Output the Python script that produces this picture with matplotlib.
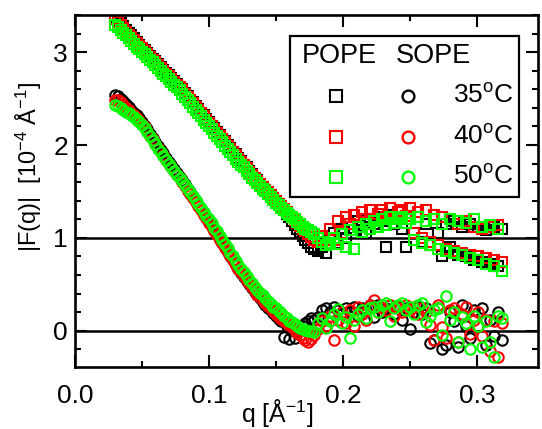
import matplotlib
matplotlib.use("Agg")
import matplotlib.pyplot as plt
from matplotlib.patches import Rectangle
from matplotlib.ticker import MultipleLocator, FormatStrFormatter

plt.rcParams['font.family'] = ['Liberation Sans', 'DejaVu Sans']
plt.rcParams['mathtext.fontset'] = 'custom'
plt.rcParams['mathtext.rm'] = 'Liberation Sans'
plt.rcParams['mathtext.it'] = 'Liberation Sans:italic'
plt.rcParams['mathtext.bf'] = 'Liberation Sans:bold'

# ---------------- data ----------------
# dense, smooth low-q part
q_smooth = [0.030, 0.032, 0.034, 0.036, 0.038, 0.040, 0.042, 0.044, 0.046, 0.048,
            0.050, 0.052, 0.054, 0.056, 0.058, 0.060, 0.062, 0.064, 0.066, 0.068,
            0.070, 0.072, 0.074, 0.076, 0.078, 0.080, 0.082, 0.084, 0.086, 0.088,
            0.090, 0.092, 0.094, 0.096, 0.098, 0.100, 0.102, 0.104, 0.106, 0.108,
            0.110, 0.112, 0.114, 0.116, 0.118, 0.120, 0.122, 0.124, 0.126, 0.128,
            0.130, 0.132, 0.134, 0.136, 0.138, 0.140, 0.142, 0.144, 0.146, 0.148,
            0.150, 0.152, 0.154, 0.156, 0.158, 0.160, 0.162, 0.164, 0.166, 0.168,
            0.170, 0.172, 0.174, 0.176, 0.178]
# noisy high-q part
q_tail = [0.181, 0.184, 0.187, 0.190, 0.193, 0.196, 0.199,
          0.202, 0.205, 0.208, 0.211, 0.214, 0.217, 0.220,
          0.223, 0.226, 0.229, 0.232, 0.235, 0.238, 0.241,
          0.244, 0.247, 0.250, 0.253, 0.256, 0.259, 0.262,
          0.265, 0.268, 0.271, 0.274, 0.277, 0.280, 0.283,
          0.286, 0.289, 0.292, 0.295, 0.298, 0.301, 0.304,
          0.307, 0.310, 0.313, 0.316, 0.319]

# POPE (squares), shifted by +1
pope_35_smooth = [3.38, 3.35, 3.31, 3.28, 3.24, 3.21, 3.18, 3.15, 3.11, 3.08,
                  3.05, 3.02, 2.99, 2.96, 2.93, 2.90, 2.87, 2.84, 2.81, 2.78,
                  2.75, 2.72, 2.69, 2.66, 2.63, 2.60, 2.56, 2.53, 2.49, 2.46,
                  2.42, 2.39, 2.35, 2.32, 2.28, 2.25, 2.21, 2.18, 2.14, 2.11,
                  2.07, 2.04, 2.00, 1.97, 1.93, 1.90, 1.86, 1.83, 1.79, 1.76,
                  1.72, 1.69, 1.65, 1.62, 1.58, 1.55, 1.52, 1.49, 1.46, 1.43,
                  1.40, 1.36, 1.33, 1.30, 1.26, 1.22, 1.18, 1.14, 1.10, 1.06,
                  1.02, 0.98, 0.94, 0.90, 0.88]
pope_35_tail = [0.86, 0.90, 0.84, 0.98, 1.05, 0.95, 1.10,
                1.00, 1.15, 1.08, 1.18, 1.12, 1.05, 1.20,
                1.15, 1.22, 1.18, 0.90, 1.25, 1.15, 1.22,
                1.10, 0.90, 1.20, 1.05, 1.22, 0.96, 1.15,
                0.92, 1.20, 1.05, 0.80, 1.15, 0.90, 1.18,
                0.82, 1.12, 0.80, 1.15, 0.76, 1.12, 0.74,
                1.08, 0.72, 1.12, 0.70, 1.10]
pope_40_smooth = [3.36, 3.33, 3.29, 3.26, 3.22, 3.19, 3.16, 3.13, 3.10, 3.07,
                  3.04, 3.01, 2.98, 2.95, 2.92, 2.89, 2.86, 2.83, 2.80, 2.77,
                  2.74, 2.71, 2.68, 2.65, 2.62, 2.59, 2.55, 2.52, 2.48, 2.45,
                  2.41, 2.38, 2.34, 2.31, 2.27, 2.24, 2.20, 2.17, 2.13, 2.10,
                  2.06, 2.03, 1.99, 1.96, 1.92, 1.89, 1.85, 1.82, 1.78, 1.75,
                  1.71, 1.68, 1.65, 1.61, 1.58, 1.55, 1.52, 1.49, 1.46, 1.43,
                  1.40, 1.37, 1.34, 1.31, 1.28, 1.25, 1.22, 1.19, 1.16, 1.13,
                  1.10, 1.07, 1.04, 1.01, 0.98]
pope_40_tail = [0.96, 1.02, 0.92, 1.10, 0.98, 1.18, 1.05,
                1.22, 1.15, 1.25, 1.12, 1.28, 1.20, 1.30,
                1.18, 1.26, 1.30, 1.22, 1.32, 1.20, 1.28,
                1.30, 1.24, 1.32, 1.05, 1.28, 1.00, 1.30,
                0.96, 1.25, 0.92, 1.22, 0.88, 1.20, 0.86,
                1.15, 0.84, 1.18, 0.82, 1.12, 0.80, 1.10,
                0.78, 1.12, 0.76, 1.14, 0.74]
pope_50_smooth = [3.29, 3.27, 3.24, 3.21, 3.18, 3.15, 3.12, 3.09, 3.06, 3.03,
                  3.00, 2.98, 2.95, 2.92, 2.89, 2.86, 2.83, 2.80, 2.77, 2.74,
                  2.71, 2.68, 2.65, 2.62, 2.59, 2.55, 2.52, 2.48, 2.45, 2.41,
                  2.38, 2.34, 2.31, 2.27, 2.24, 2.20, 2.17, 2.13, 2.10, 2.06,
                  2.03, 1.99, 1.96, 1.92, 1.89, 1.85, 1.82, 1.79, 1.76, 1.72,
                  1.69, 1.65, 1.62, 1.59, 1.56, 1.53, 1.50, 1.47, 1.44, 1.41,
                  1.38, 1.35, 1.32, 1.30, 1.27, 1.25, 1.22, 1.20, 1.17, 1.15,
                  1.12, 1.10, 1.08, 1.06, 1.04]
pope_50_tail = [1.00, 0.96, 0.92, 0.95, 1.00, 0.93, 1.04,
                0.90, 1.08, 0.88, 1.12, 1.06, 1.15, 1.10,
                1.18, 1.12, 1.20, 1.14, 1.22, 1.16, 1.20,
                1.22, 1.16, 1.20, 0.98, 1.22, 0.94, 1.18,
                0.92, 1.20, 0.88, 1.15, 0.86, 1.20, 0.84,
                1.18, 0.82, 1.16, 0.78, 1.20, 0.76, 1.12,
                0.72, 1.14, 0.70, 1.10, 0.64]

# SOPE (circles)
sope_35_smooth = [2.54, 2.53, 2.50, 2.47, 2.44, 2.41, 2.38, 2.35, 2.32, 2.29,
                  2.25, 2.21, 2.17, 2.12, 2.08, 2.03, 1.99, 1.95, 1.91, 1.86,
                  1.82, 1.78, 1.74, 1.70, 1.66, 1.62, 1.58, 1.53, 1.49, 1.44,
                  1.40, 1.35, 1.31, 1.26, 1.22, 1.17, 1.13, 1.08, 1.04, 0.99,
                  0.95, 0.90, 0.85, 0.81, 0.76, 0.71, 0.67, 0.62, 0.58, 0.54,
                  0.50, 0.46, 0.42, 0.38, 0.35, 0.31, 0.28, 0.25, 0.22, 0.19,
                  0.16, 0.13, 0.10, -0.07, 0.05, -0.09, 0.02, -0.08, 0.00, 0.03,
                  0.05, 0.08, 0.10, 0.14, 0.12]
sope_35_tail = [0.15, 0.22, 0.24, 0.20, 0.26, 0.22, 0.18,
                0.24, 0.20, 0.26, 0.16, 0.24, 0.22, 0.28,
                0.15, 0.28, 0.20, 0.24, 0.28, 0.18, 0.26,
                0.12, 0.24, 0.02, 0.20, 0.26, 0.18, 0.24,
                -0.13, -0.10, 0.25, -0.20, -0.15, 0.20, 0.10,
                -0.17, 0.28, 0.05, -0.08, 0.22, 0.05, 0.24,
                -0.15, 0.12, -0.06, 0.20, -0.10]
sope_40_smooth = [2.49, 2.48, 2.46, 2.43, 2.40, 2.38, 2.35, 2.32, 2.29, 2.26,
                  2.23, 2.19, 2.15, 2.10, 2.06, 2.01, 1.97, 1.93, 1.89, 1.84,
                  1.80, 1.76, 1.72, 1.68, 1.64, 1.60, 1.56, 1.51, 1.47, 1.43,
                  1.39, 1.34, 1.30, 1.25, 1.21, 1.16, 1.12, 1.07, 1.03, 0.98,
                  0.94, 0.89, 0.85, 0.80, 0.76, 0.71, 0.67, 0.63, 0.59, 0.55,
                  0.51, 0.47, 0.43, 0.39, 0.36, 0.33, 0.30, 0.27, 0.24, 0.21,
                  0.18, 0.15, 0.13, 0.10, 0.08, 0.06, 0.04, 0.01, -0.02, -0.05,
                  -0.08, -0.10, -0.12, -0.09, -0.05]
sope_40_tail = [0.02, 0.10, 0.05, 0.16, -0.10, 0.12, 0.20,
                0.08, 0.22, 0.05, 0.26, 0.18, 0.12, 0.28,
                0.33, 0.20, 0.25, 0.22, 0.28, 0.16, 0.24,
                0.20, 0.28, 0.22, 0.26, 0.18, 0.24, 0.20,
                0.06, -0.10, 0.28, 0.04, -0.08, 0.22, 0.24,
                -0.12, 0.18, 0.26, -0.04, 0.12, 0.20, -0.06,
                0.12, -0.22, 0.10, -0.28, 0.08]
sope_50_smooth = [2.43, 2.42, 2.40, 2.38, 2.36, 2.34, 2.32, 2.30, 2.27, 2.25,
                  2.22, 2.18, 2.14, 2.10, 2.05, 2.01, 1.96, 1.92, 1.88, 1.84,
                  1.80, 1.76, 1.72, 1.68, 1.64, 1.61, 1.57, 1.53, 1.49, 1.45,
                  1.41, 1.36, 1.32, 1.28, 1.24, 1.20, 1.16, 1.11, 1.07, 1.02,
                  0.98, 0.93, 0.89, 0.84, 0.80, 0.75, 0.71, 0.67, 0.63, 0.59,
                  0.55, 0.51, 0.47, 0.44, 0.41, 0.38, 0.35, 0.32, 0.29, 0.26,
                  0.24, 0.21, 0.19, 0.16, 0.14, 0.11, 0.09, 0.07, 0.05, 0.03,
                  0.02, 0.01, 0.00, 0.00, -0.01]
sope_50_tail = [0.08, 0.14, 0.03, 0.10, 0.18, 0.23, 0.08,
                0.15, -0.08, 0.12, 0.18, 0.22, 0.14, 0.24,
                0.26, 0.20, 0.28, 0.30, 0.10, 0.24, 0.28,
                0.30, 0.22, 0.26, 0.18, 0.28, 0.30, 0.09,
                0.16, 0.22, 0.24, -0.05, 0.37, 0.12, 0.20,
                -0.12, 0.15, 0.08, -0.20, 0.16, 0.05, -0.17,
                0.10, -0.12, -0.28, 0.16, 0.14]

temps = ['35', '40', '50']
colors = ['#000000', '#ff0000', '#00ff00']
q_all = q_smooth + q_tail
pope = [pope_35_smooth + pope_35_tail,
        pope_40_smooth + pope_40_tail,
        pope_50_smooth + pope_50_tail]
sope = [sope_35_smooth + sope_35_tail,
        sope_40_smooth + sope_40_tail,
        sope_50_smooth + sope_50_tail]

xticks = [0.0, 0.1, 0.2, 0.3]
yticks = [0, 1, 2, 3]

# ---------------- figure ----------------
fig = plt.figure(figsize=(5.42, 4.29), dpi=100)
ax = fig.add_axes([75/542, 62/429, 463/542, 352/429])

ax.axhline(0, color='black', lw=1.8, zorder=1)
ax.axhline(1, color='black', lw=1.8, zorder=1)

ms = 7.5
mew = 1.5
for ys, c in zip(pope, colors):
    ax.plot(q_all, ys, linestyle='none', marker='s', ms=ms, mew=mew,
            mfc='none', mec=c, zorder=2)
for ys, c in zip(sope, colors):
    ax.plot(q_all, ys, linestyle='none', marker='o', ms=ms, mew=mew,
            mfc='none', mec=c, zorder=2)

ax.set_xlim(0.0, 0.3455)
ax.set_ylim(-0.39, 3.40)
ax.set_xticks(xticks)
ax.set_yticks(yticks)
ax.xaxis.set_major_formatter(FormatStrFormatter('%.1f'))
ax.yaxis.set_major_formatter(FormatStrFormatter('%d'))
ax.xaxis.set_minor_locator(MultipleLocator(0.05))
ax.yaxis.set_minor_locator(MultipleLocator(0.2))
ax.tick_params(which='both', direction='in', top=True, right=True,
               width=1.5, colors='black', labelsize=19)
ax.tick_params(which='major', length=8.5)
ax.tick_params(which='minor', length=4.5)
ax.tick_params(axis='x', which='major', pad=12)
ax.tick_params(axis='y', which='major', pad=5)
for s in ax.spines.values():
    s.set_linewidth(1.9)

ax.set_xlabel(r'q [Å$^{-1}$]', fontsize=18)
ax.xaxis.set_label_coords(0.436, -0.086)
ax.set_ylabel(r'|F(q)|  [10$^{-4}$ Å$^{-1}$]', fontsize=17)
ax.yaxis.set_label_coords(-0.100, 0.568)
ax.yaxis.label.set_va('center')

# ---------------- legend (drawn manually) ----------------
ax.add_patch(Rectangle((0.464, 0.483), 0.495, 0.457, transform=ax.transAxes,
                       facecolor='white', edgecolor='black', lw=1.6,
                       zorder=5, clip_on=False))
ax.text(0.570, 0.884, 'POPE', transform=ax.transAxes, ha='center',
        va='center', fontsize=19.5, zorder=6)
ax.text(0.773, 0.884, 'SOPE', transform=ax.transAxes, ha='center',
        va='center', fontsize=19.5, zorder=6)
row_y = [0.770, 0.653, 0.540]
for t, c, yy in zip(temps, colors, row_y):
    ax.plot([0.564], [yy], transform=ax.transAxes, marker='s', ms=8,
            mew=1.5, mfc='none', mec=c, linestyle='none', zorder=6,
            clip_on=False)
    ax.plot([0.719], [yy], transform=ax.transAxes, marker='o', ms=8.5,
            mew=1.7, mfc='none', mec=c, linestyle='none', zorder=6,
            clip_on=False)
    ax.text(0.816, yy, t + r'$^{\rm o}$C', transform=ax.transAxes,
            ha='left', va='center', fontsize=19, zorder=6)

fig.savefig('out.png', dpi=100)
